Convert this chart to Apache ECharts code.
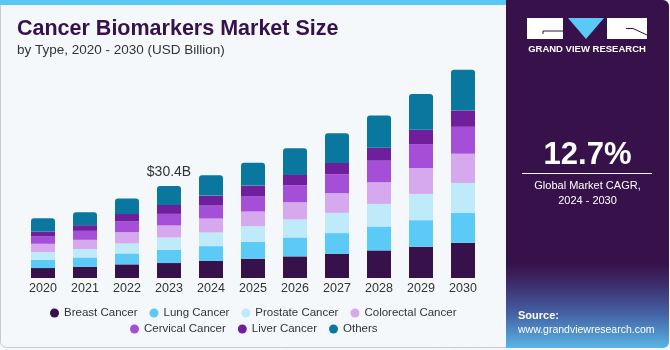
<!DOCTYPE html>
<html>
<head>
<meta charset="utf-8">
<script src="https://cdn.jsdelivr.net/npm/echarts@6/dist/echarts.min.js"></script>
<style>
  html, body { margin: 0; padding: 0; background: #ffffff; }
  #chart { width: 670px; height: 350px; }
</style>
</head>
<body>
<div id="chart"></div>
<script>
// years on the x axis
var years = ["2020", "2021", "2022", "2023", "2024", "2025", "2026", "2027", "2028", "2029", "2030"];

// segment values, USD billion
var breastCancer = [3.29, 3.73, 4.50, 4.94, 5.70, 6.37, 7.14, 8.02, 9.11, 10.32, 11.63];
var lungCancer = [2.74, 3.07, 3.62, 4.39, 4.83, 5.60, 6.26, 6.81, 7.90, 8.78, 9.88];
var prostateCancer = [2.52, 2.74, 3.29, 4.06, 4.50, 5.16, 5.93, 6.70, 7.46, 8.67, 9.88];
var colorectalCancer = [2.74, 3.07, 3.73, 3.95, 4.61, 4.83, 5.71, 6.48, 7.14, 8.56, 9.66];
var cervicalCancer = [2.41, 2.96, 3.51, 3.84, 4.28, 4.94, 5.60, 6.26, 7.14, 7.90, 8.89];
var liverCancer = [1.65, 1.87, 2.52, 2.96, 3.29, 3.62, 3.40, 3.73, 4.28, 4.72, 5.38];
var others = [4.39, 4.28, 5.05, 6.26, 6.70, 7.58, 8.78, 9.77, 10.65, 11.85, 13.50];

var seriesNames = ["Breast Cancer", "Lung Cancer", "Prostate Cancer", "Colorectal Cancer",
  "Cervical Cancer", "Liver Cancer", "Others"];
var seriesData = [breastCancer, lungCancer, prostateCancer, colorectalCancer,
  cervicalCancer, liverCancer, others];
var colors = ["#36114a", "#5ccaf6", "#bfeafa", "#d6a9ee", "#a54fd8", "#6f1f9c", "#0a779f"];

var calloutYear = "2023";
var cagrText = "12.7%";

var font = "'Liberation Sans', Arial, sans-serif";
var calloutIdx = years.indexOf(calloutYear);
var calloutTotal = 0;
seriesData.forEach(function (arr) { calloutTotal += arr[calloutIdx]; });

var myChart = echarts.init(document.getElementById("chart"));

var series = seriesNames.map(function (name, i) {
  var isTop = i === seriesNames.length - 1;
  return {
    name: name,
    type: "bar",
    stack: "total",
    barWidth: 24,
    itemStyle: {
      color: colors[i],
      borderRadius: isTop ? [3, 3, 0, 0] : 0
    },
    data: seriesData[i].map(function (v, j) {
      if (isTop && j === calloutIdx) {
        return {
          value: v,
          label: {
            show: true,
            position: "top",
            distance: 7,
            formatter: "$" + calloutTotal.toFixed(1) + "B",
            fontFamily: font,
            fontSize: 14,
            color: "#333333"
          }
        };
      }
      return v;
    })
  };
});

// perspective grid in the bottom of the side panel (decoration)
var gridLines = [];
var hy = [289, 294, 300, 307, 315, 324, 335, 348];
hy.forEach(function (y) {
  gridLines.push({
    type: "line",
    shape: { x1: 506, y1: y, x2: 669, y2: y - 3 },
    style: { stroke: "rgba(255,255,255,0.18)", lineWidth: 1 }
  });
});
for (var k = -10; k <= 12; k++) {
  gridLines.push({
    type: "line",
    shape: { x1: 590 + k * 5, y1: 284, x2: 590 + k * 16, y2: 350 },
    style: { stroke: "rgba(255,255,255,0.16)", lineWidth: 1 }
  });
}

var legendBase = {
  icon: "circle",
  itemWidth: 9,
  itemHeight: 9,
  itemGap: 12,
  textStyle: { fontFamily: font, fontSize: 11.5, color: "#333333" }
};

myChart.setOption({
  backgroundColor: "#f4f8fb",
  animation: false,
  grid: { left: 22, right: 186, top: 60, bottom: 72 },
  xAxis: {
    type: "category",
    data: years,
    axisLine: { show: false },
    axisTick: { show: false },
    axisLabel: { margin: 4, fontFamily: font, fontSize: 12.5, color: "#333333" }
  },
  yAxis: {
    type: "value",
    min: 0,
    max: 72,
    show: false,
    splitLine: { show: false }
  },
  legend: [
    Object.assign({ data: seriesNames.slice(0, 4), left: 45, top: 302 }, legendBase),
    Object.assign({ data: seriesNames.slice(4), left: 125, top: 318 }, legendBase)
  ],
  series: series,
  graphic: [
    // card outline and top stripe
    {
      type: "rect", z: -10, silent: true,
      shape: { x: 0.5, y: 0.5, width: 560, height: 347, r: 6 },
      style: { fill: "#f4f8fb", stroke: "#c9c9c9", lineWidth: 1 }
    },
    {
      type: "rect", z: -9, silent: true,
      shape: { x: 0, y: 0, width: 510, height: 5 },
      style: { fill: "#5ac8f4" }
    },
    // title
    {
      type: "text", left: 17, top: 18,
      style: { text: "Cancer Biomarkers Market Size", fontFamily: font, fontSize: 21.5, fontWeight: "bold", fill: "#36114a" }
    },
    {
      type: "text", left: 17, top: 43,
      style: { text: "by Type, 2020 - 2030 (USD Billion)", fontFamily: font, fontSize: 13.5, fill: "#333333" }
    },
    // side panel
    {
      type: "rect", silent: true, z: 1,
      shape: { x: 506, y: 0, width: 163, height: 348, r: [0, 6, 6, 0] },
      style: {
        fill: new echarts.graphic.LinearGradient(0, 0, 0, 1, [
          { offset: 0, color: "#37124a" },
          { offset: 0.76, color: "#37124a" },
          { offset: 0.82, color: "#3d2f6d" },
          { offset: 0.9, color: "#4460a3" },
          { offset: 1, color: "#58b6e4" }
        ])
      }
    },
    { type: "group", z: 2, silent: true, children: gridLines },
    // logo
    { type: "rect", z: 3, shape: { x: 527, y: 18, width: 36, height: 21 }, style: { fill: "#ffffff" } },
    { type: "polyline", z: 4, shape: { points: [[563, 31], [543, 31], [543, 34]] }, style: { stroke: "#37124a", lineWidth: 1, fill: null } },
    { type: "polygon", z: 3, shape: { points: [[568, 18], [604, 18], [586, 39]] }, style: { fill: "#5bc8f5" } },
    { type: "rect", z: 3, shape: { x: 607, y: 18, width: 40, height: 21 }, style: { fill: "#ffffff" } },
    { type: "polyline", z: 4, shape: { points: [[626, 28.5], [633, 28.5], [647, 35]] }, style: { stroke: "#37124a", lineWidth: 1, fill: null } },
    {
      type: "text", z: 3, x: 587, y: 49,
      style: { text: "GRAND VIEW RESEARCH", align: "center", verticalAlign: "middle", fontFamily: font, fontSize: 9.5, fontWeight: "bold", fill: "#ffffff" }
    },
    // CAGR
    {
      type: "text", z: 3, x: 587.5, y: 155,
      style: { text: cagrText, align: "center", verticalAlign: "middle", fontFamily: font, fontSize: 31, fontWeight: "bold", fill: "#ffffff" }
    },
    { type: "line", z: 3, shape: { x1: 522, y1: 173.5, x2: 652, y2: 173.5 }, style: { stroke: "#ffffff", lineWidth: 1 } },
    {
      type: "text", z: 3, x: 587.5, y: 193,
      style: { text: "Global Market CAGR,\n2024 - 2030", align: "center", verticalAlign: "middle", lineHeight: 15, fontFamily: font, fontSize: 11, fill: "#ffffff" }
    },
    // source
    {
      type: "text", z: 3, x: 518, y: 316,
      style: { text: "Source:", verticalAlign: "middle", fontFamily: font, fontSize: 11, fontWeight: "bold", fill: "#ffffff" }
    },
    {
      type: "text", z: 3, x: 518, y: 330,
      style: { text: "www.grandviewresearch.com", verticalAlign: "middle", fontFamily: font, fontSize: 10.5, fill: "#ffffff" }
    }
  ]
});
</script>
</body>
</html>
